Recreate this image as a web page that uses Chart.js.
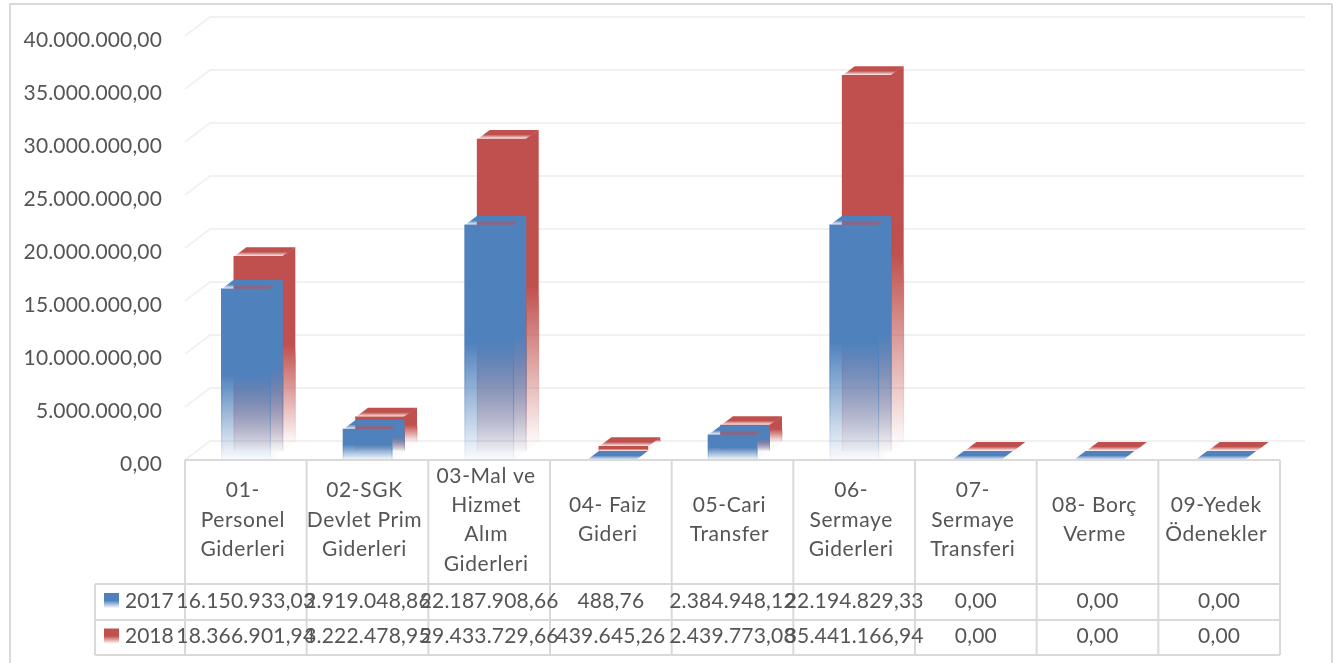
<!DOCTYPE html>
<html lang="tr">
<head>
<meta charset="utf-8">
<title>2017-2018 Gider Karşılaştırması</title>
<script src="https://cdn.jsdelivr.net/npm/chart.js@4/dist/chart.umd.min.js"></script>
<style>
  html, body { margin: 0; padding: 0; background: #fff; overflow: hidden; }
  canvas { display: block; }
</style>
</head>
<body>
<canvas id="chart" width="1342" height="663"></canvas>
<script>
// ===== データ =====
const categories = [
  ['01-', 'Personel', 'Giderleri'],
  ['02-SGK', 'Devlet Prim', 'Giderleri'],
  ['03-Mal ve', 'Hizmet', 'Alım', 'Giderleri'],
  ['04- Faiz', 'Gideri'],
  ['05-Cari', 'Transfer'],
  ['06-', 'Sermaye', 'Giderleri'],
  ['07-', 'Sermaye', 'Transferi'],
  ['08- Borç', 'Verme'],
  ['09-Yedek', 'Ödenekler'],
];
const values2017 = [16150933.03, 2919048.86, 22187908.66, 488.76, 2384948.12, 22194829.33, 0, 0, 0];
const values2018 = [18366901.94, 3222478.95, 29433729.66, 439645.26, 2439773.08, 35441166.94, 0, 0, 0];
const seriesNames = ['2017', '2018'];

// ===== 定数 =====
const BLUE = '79,129,189';
const RED = '192,80,77';
const TEXT = '#555555';
const LINE = '#D9D9D9';
const WALL = '#F1F1F1';
const FONT = '21px Lato';
const DEPTH_X = 12.5;   // 棒の奥行き
const DEPTH_Y = 9;
const WALL_X = 25;      // 背面の壁までのずれ
const WALL_Y = 19;
const WALL_RIGHT = 1305;
const ROW_LINES = [584, 620, 655];
const TABLE_LEFT = 95;

function fmt(v) {
  return v.toLocaleString('tr-TR', { minimumFractionDigits: 2, maximumFractionDigits: 2 });
}

// 上半分はベタ、下半分で透明に抜けるグラデーション
function fade(ctx, rgb, top, bottom) {
  const g = ctx.createLinearGradient(0, top, 0, bottom);
  g.addColorStop(0, `rgba(${rgb},1)`);
  g.addColorStop(0.5, `rgba(${rgb},1)`);
  g.addColorStop(1, `rgba(${rgb},0.03)`);
  return g;
}

function poly(ctx, pts, fill) {
  ctx.beginPath();
  pts.forEach((p, i) => i ? ctx.lineTo(p[0], p[1]) : ctx.moveTo(p[0], p[1]));
  ctx.closePath();
  ctx.fillStyle = fill;
  ctx.fill();
}

// 縦の細いエッジ（フェード部分で見える）
function edge(ctx, rgb, x, top, bottom, alpha) {
  if (bottom - top < 2) return;
  const mid = top + (bottom - top) / 2;
  const g = ctx.createLinearGradient(0, mid, 0, bottom);
  g.addColorStop(0, `rgba(${rgb},0)`);
  g.addColorStop(0.15, `rgba(${rgb},${alpha})`);
  g.addColorStop(1, `rgba(${rgb},0.05)`);
  ctx.strokeStyle = g;
  ctx.lineWidth = 1;
  ctx.beginPath();
  ctx.moveTo(x, mid);
  ctx.lineTo(x, bottom);
  ctx.stroke();
}

// ===== プラグイン =====
const wallPlugin = {
  id: 'wall',
  beforeDatasetsDraw(chart) {
    const { ctx, scales: { y }, chartArea: a } = chart;
    ctx.save();
    ctx.strokeStyle = WALL;
    ctx.lineWidth = 2;
    y.ticks.forEach(t => {
      const py = y.getPixelForValue(t.value);
      ctx.beginPath();
      ctx.moveTo(a.left, py);
      ctx.lineTo(a.left + WALL_X, py - WALL_Y);
      ctx.lineTo(WALL_RIGHT, py - WALL_Y);
      ctx.stroke();
    });
    ctx.restore();
  },
};

// 側面と上面を描く。2018 は奥の列なので全体をずらす
const prismPlugin = {
  id: 'prism',
  beforeDatasetDraw(chart, args) {
    const { ctx } = chart;
    const rgb = args.index === 0 ? BLUE : RED;
    ctx.save();
    if (args.index === 1) ctx.translate(DEPTH_X, -DEPTH_Y);
    args.meta.data.forEach(el => {
      const l = el.x - el.width / 2;
      const r = el.x + el.width / 2;
      const top = el.y;
      const base = el.base;
      if (base - top > 0.5) {
        // 前面との継ぎ目が出ないように少し重ねる
        poly(ctx, [[r - 0.7, top], [r + DEPTH_X, top - DEPTH_Y], [r + DEPTH_X, base - DEPTH_Y], [r, base]],
          fade(ctx, rgb, top - DEPTH_Y, base - DEPTH_Y));
      }
      poly(ctx, [[l, top + 0.4], [l + DEPTH_X, top - DEPTH_Y], [r + DEPTH_X, top - DEPTH_Y], [r, top + 0.4]],
        fade(ctx, rgb, top - DEPTH_Y, top));
    });
  },
  afterDatasetDraw(chart, args) {
    const { ctx } = chart;
    const rgb = args.index === 0 ? BLUE : RED;
    args.meta.data.forEach(el => {
      const l = el.x - el.width / 2;
      const r = el.x + el.width / 2;
      edge(ctx, rgb, l + 0.5, el.y, el.base, 0.45);
      edge(ctx, rgb, r, el.y, el.base, 0.75);
      edge(ctx, rgb, r + DEPTH_X, el.y - DEPTH_Y, el.base - DEPTH_Y, 0.6);
    });
    ctx.restore();
  },
};

// データテーブルと枠線
const tablePlugin = {
  id: 'table',
  afterDraw(chart) {
    const { ctx, scales: { x }, chartArea: a } = chart;
    const step = x.getPixelForValue(1) - x.getPixelForValue(0);
    const edges = categories.map((_, i) => x.getPixelForValue(i) - step / 2);
    edges.push(a.right);

    ctx.save();
    ctx.strokeStyle = LINE;
    ctx.lineWidth = 2;
    const seg = (x0, y0, x1, y1) => {
      ctx.beginPath();
      ctx.moveTo(x0, y0);
      ctx.lineTo(x1, y1);
      ctx.stroke();
    };
    // 外枠
    seg(10, 663, 10, 4);
    seg(9, 4, 1332, 4);
    seg(1332, 4, 1332, 663);
    // 表
    seg(a.left, a.bottom, a.right, a.bottom);
    ROW_LINES.forEach(ry => seg(TABLE_LEFT, ry, a.right, ry));
    seg(TABLE_LEFT, ROW_LINES[0], TABLE_LEFT, ROW_LINES[2]);
    edges.forEach(ex => seg(ex, a.bottom, ex, ROW_LINES[2]));

    ctx.fillStyle = TEXT;
    ctx.font = FONT;
    ctx.textAlign = 'center';
    ctx.textBaseline = 'middle';

    // カテゴリ名（元の図では中央より少し左）
    ctx.letterSpacing = '0.6px';
    categories.forEach((lines, i) => {
      lines.forEach((s, n) => {
        ctx.fillText(s, x.getPixelForValue(i) - 3, 520 + (n - (lines.length - 1) / 2) * 29.3);
      });
    });

    // 値
    [values2017, values2018].forEach((vals, row) => {
      const cy = (ROW_LINES[row] + ROW_LINES[row + 1]) / 2 - 1;
      ctx.letterSpacing = '0.2px';
      vals.forEach((v, i) => ctx.fillText(fmt(v), x.getPixelForValue(i), cy));

      // 凡例
      const rgb = row === 0 ? BLUE : RED;
      ctx.fillStyle = fade(ctx, rgb, cy - 8, cy + 7);
      ctx.fillRect(104, cy - 8, 15, 15);
      ctx.fillStyle = TEXT;
      ctx.textAlign = 'left';
      ctx.letterSpacing = '0px';
      ctx.fillText(seriesNames[row], 125, cy);
      ctx.textAlign = 'center';
    });
    ctx.restore();
  },
};

// ===== グラフ =====
const chart = new Chart(document.getElementById('chart').getContext('2d'), {
  type: 'bar',
  data: {
    labels: categories,
    datasets: [
      { label: seriesNames[0], data: values2017, rgb: BLUE },
      { label: seriesNames[1], data: values2018, rgb: RED },
    ].map(d => ({
      ...d,
      grouped: false,
      barThickness: 49,
      clip: false,
      backgroundColor(c) {
        const y = c.chart.scales.y;
        const top = c.parsed ? y.getPixelForValue(c.parsed.y) : NaN;
        if (!isFinite(top)) return `rgb(${d.rgb})`;
        return fade(c.chart.ctx, d.rgb, top, y.getPixelForValue(0));
      },
    })),
  },
  options: {
    responsive: false,
    animation: false,
    events: [],
    layout: { padding: { left: 0, top: 36, right: 62, bottom: 203 } },
    plugins: { legend: { display: false }, tooltip: { enabled: false } },
    scales: {
      x: {
        afterFit(scale) { scale.height = 0; },
        grid: { display: false },
        border: { display: false },
        ticks: { display: false },
      },
      y: {
        min: 0,
        max: 40000000,
        afterFit(scale) { scale.width = 185; },
        grid: { display: false, drawTicks: false },
        border: { display: false },
        ticks: {
          stepSize: 5000000,
          padding: 23,
          color: TEXT,
          font: { family: 'Lato', size: 21 },
          callback: v => fmt(v),
        },
      },
    },
  },
  plugins: [wallPlugin, prismPlugin, tablePlugin],
});

// 目盛りラベルは軸より少し下に出る
const yScale = chart.scales.y;
const drawLabels = yScale.drawLabels;
yScale.drawLabels = function (area) {
  const { ctx } = this;
  ctx.save();
  ctx.translate(0, 4.5);
  ctx.letterSpacing = '0.15px';
  drawLabels.call(this, area);
  ctx.restore();
};
chart.draw();
</script>
</body>
</html>
